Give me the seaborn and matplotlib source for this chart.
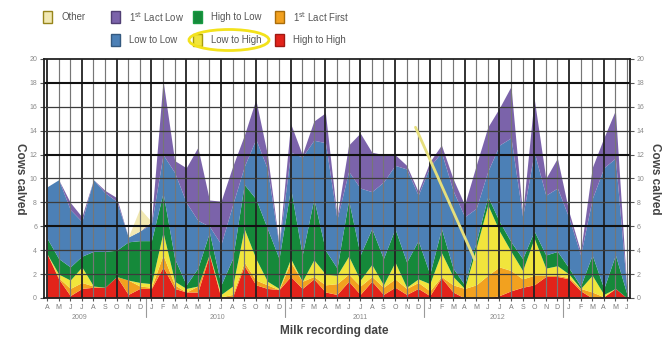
import matplotlib
matplotlib.use("Agg")
import matplotlib.pyplot as plt
from matplotlib.patches import Rectangle, Ellipse
import pandas as pd
import seaborn as sns

# monthly milk recordings, Apr 2009 - Jun 2013
months = pd.date_range("2009-04-01", "2013-06-01", freq="MS")
month_letters = [m.strftime("%b")[0] for m in months]
years = ["2009", "2010", "2011", "2012"]

high_to_high = [3.7, 1.6, 0.2, 0.8, 0.9, 0.9, 1.8, 0.3, 0.8, 0.8,
                2.6, 0.8, 0.5, 0.5, 3.6, 0.0, 0.1, 2.7, 1.1, 0.8,
                0.7, 1.8, 0.8, 1.6, 0.5, 0.3, 1.4, 0.3, 1.4, 0.3,
                0.9, 0.3, 0.8, 0.2, 1.7, 0.5, 0.0, 0.0, 0.0, 0.2,
                0.6, 0.9, 1.1, 1.8, 1.8, 1.6, 0.6, 0.0, 0.1, 0.8, 0.0]
first_lact_first = [0.0, 0.1, 0.6, 0.5, 0.1, 0.0, 0.0, 1.2, 0.2, 0.1,
                    1.0, 0.3, 0.0, 0.5, 0.1, 0.1, 0.2, 0.3, 0.4, 0.3,
                    0.0, 1.2, 0.6, 0.2, 0.6, 0.9, 0.6, 0.7, 0.4, 0.6,
                    0.7, 0.5, 0.5, 0.4, 0.1, 0.6, 0.8, 1.1, 1.9, 2.4,
                    1.7, 0.7, 0.8, 0.1, 0.1, 0.1, 0.2, 0.5, 0.0, 0.0, 0.0]
low_to_high = [0.0, 0.3, 0.7, 1.3, 0.0, 0.0, 0.0, 0.0, 0.3, 0.3,
               1.9, 0.3, 0.3, 0.0, 0.0, 0.2, 0.7, 2.8, 1.8, 0.3,
               0.1, 0.3, 0.0, 1.4, 0.9, 0.7, 1.5, 0.5, 1.0, 0.2,
               1.4, 0.1, 0.3, 0.6, 2.0, 0.7, 0.0, 3.1, 5.9, 3.0,
               1.6, 0.7, 3.1, 0.6, 0.8, 0.3, 0.0, 1.4, 0.2, 0.0, 0.0]
high_to_low = [1.3, 1.3, 1.1, 0.9, 2.9, 3.0, 2.2, 3.2, 3.5, 3.6,
               3.3, 1.9, 0.3, 1.5, 1.8, 0.8, 2.3, 3.7, 5.0, 4.4,
               2.5, 5.9, 2.2, 5.1, 2.0, 0.6, 4.7, 2.1, 3.0, 2.2,
               2.8, 2.1, 3.2, 0.8, 2.0, 0.7, 0.3, 0.5, 0.7, 0.8,
               0.8, 1.0, 0.6, 1.1, 1.2, 0.5, 0.2, 1.7, 0.5, 2.8, 0.3]
low_to_low = [4.3, 6.6, 4.8, 2.9, 6.0, 4.9, 4.1, 0.4, 0.8, 1.4,
              3.2, 7.2, 6.9, 4.0, 0.5, 3.4, 4.5, 1.5, 5.0, 5.0,
              1.1, 3.0, 8.2, 4.9, 9.0, 4.1, 2.4, 5.6, 3.1, 6.4,
              5.3, 7.8, 3.8, 9.0, 6.4, 6.5, 5.7, 2.8, 2.1, 6.4,
              8.7, 3.5, 6.6, 5.0, 5.3, 4.2, 2.6, 4.7, 10.1, 8.1, 0.2]
first_lact_low = [0.0, 0.0, 0.6, 0.4, 0.0, 0.2, 0.3, 0.0, 0.0, 0.2,
                  6.2, 1.0, 2.9, 6.1, 2.2, 3.6, 3.2, 2.6, 3.3, 1.2,
                  0.1, 2.4, 0.2, 1.6, 2.5, 0.2, 2.2, 4.6, 3.3, 2.3,
                  0.9, 0.3, 0.3, 0.4, 0.6, 1.0, 1.0, 3.6, 3.7, 3.1,
                  4.3, 0.2, 4.5, 1.4, 2.5, 0.5, 0.3, 2.6, 2.5, 4.0, 0.0]
other = [0.0] * 8 + [1.9] + [0.0] * 42

df = pd.DataFrame({
    "High to High": high_to_high,
    "1st Lact First": first_lact_first,
    "Low to High": low_to_high,
    "High to Low": high_to_low,
    "Low to Low": low_to_low,
    "1st Lact Low": first_lact_low,
    "Other": other,
}, index=months)

colors = {
    "High to High": "#e2231a",
    "1st Lact First": "#f2a11f",
    "Low to High": "#f1e53c",
    "High to Low": "#15893a",
    "Low to Low": "#4c80b6",
    "1st Lact Low": "#7b63aa",
    "Other": "#f1e8b2",
}

sns.set_theme(style="white")
plt.rcParams["font.family"] = ["Liberation Sans", "DejaVu Sans"]

fig = plt.figure(figsize=(6.69, 3.41), dpi=100)
ax = fig.add_axes([0.0658, 0.1261, 0.8759, 0.7009])

x = list(range(len(months)))
ax.stackplot(x, *[df[c] for c in df.columns],
             colors=[colors[c] for c in df.columns], lw=0, zorder=1)

# grid over the areas
for i in x:
    thick = i % 3 == 0
    ax.axvline(i, color="#222222" if thick else "#767676",
               lw=1.3 if thick else 0.85, zorder=3)
for v in range(2, 20, 2):
    thick = v % 6 == 0
    ax.axhline(v, color="#111111" if thick else "#3c3c3c",
               lw=1.5 if thick else 0.9, zorder=3)

ax.set_xlim(-0.26, 50.26)
ax.set_ylim(0, 20)
for s in ax.spines.values():
    s.set_color("#222222")
    s.set_linewidth(1.3)
    s.set_zorder(4)

ax.set_yticks(range(0, 21, 2))
ax.tick_params(axis="y", which="both", left=True, right=True, labelleft=True,
               labelright=True, length=3, width=0.8, color="#555555",
               labelsize=5, labelcolor="#8a8a8a", pad=2)
ax.set_xticks(x)
ax.set_xticklabels(month_letters)
ax.tick_params(axis="x", bottom=True, length=2.5, width=0.8, color="#555555",
               labelsize=5, labelcolor="#7a7a7a", pad=1.5)

# year labels and separators
trans = ax.get_xaxis_transform()
for pos, yr in zip([2.8, 14.7, 27.0, 38.8], years):
    ax.text(pos, -0.068, yr, transform=trans, ha="center", va="top",
            fontsize=5, color="#8a8a8a")
for sep in [8.5, 20.5, 32.5, 44.5]:
    ax.plot([sep, sep], [0, -0.08], transform=trans, clip_on=False,
            color="#9a9a9a", lw=0.8)

fig.text(0.5, 0.028, "Milk recording date", ha="center", va="center",
         fontsize=8.5, fontweight="bold", color="#444444")
for xpos in [0.030, 0.979]:
    fig.text(xpos, 0.477, "Cows calved", ha="center", va="center",
             rotation=270, fontsize=8.5, fontweight="bold", color="#444444")

# legend laid out like the original: 4 columns, empty slot under "Other"
legend_items = [
    ("Other", 43, 17),
    ("1$^{\\mathrm{st}}$ Lact Low", 111, 17),
    ("High to Low", 193, 17),
    ("1$^{\\mathrm{st}}$ Lact First", 275, 17),
    ("Low to Low", 111, 40),
    ("Low to High", 193, 40),
    ("High to High", 275, 40),
]
W, H = 669, 341
for label, px, py in legend_items:
    key = label.replace("$^{\\mathrm{st}}$", "st")
    fc = colors[key]
    edge = sns.set_hls_values(fc, l=0.35)
    fig.add_artist(Rectangle((px / W, 1 - (py + 6) / H), 9 / W, 12 / H,
                             transform=fig.transFigure, facecolor=fc,
                             edgecolor=edge, lw=1.0))
    fig.text((px + 18) / W, 1 - py / H, label, ha="left", va="center",
             fontsize=6.9, color="#555555")

fig.add_artist(Ellipse((229 / W, 1 - 40 / H), 80 / W, 21 / H,
                       transform=fig.transFigure, fill=False,
                       edgecolor="#f3e21b", lw=2))
ax.annotate("", xy=(0.737, 0.15), xytext=(0.632, 0.725),
            xycoords="axes fraction",
            arrowprops=dict(arrowstyle="-", color="#e6df7c", lw=2))

fig.savefig("out.png", dpi=100)
